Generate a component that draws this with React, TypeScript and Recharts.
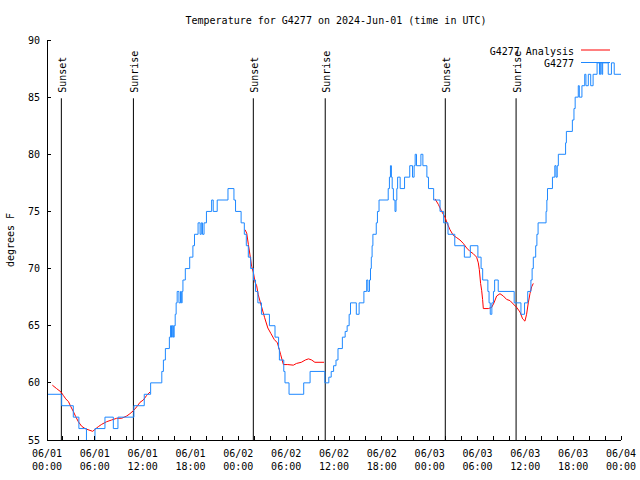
/**
 * G4277 temperature trace over three days with the analysis overlay
 * and sunset/sunrise markers, gnuplot style.
 */

import { LineChart, Line, XAxis, YAxis, ReferenceLine, Legend } from 'recharts';

const FONT = '"DejaVu Sans Mono", monospace';
const OBS_COLOR = '#1e88ff';
const ANA_COLOR = '#ff0000';

// station observations (hours since 06/01 00:00 UTC, deg F), held until the next reading
const obsHours = [
  0, 1.84, 3.3, 4.0, 4.95, 6.02, 7.27, 8.32, 8.9, 10.9, 12.2, 13.0, 14.4, 14.6, 14.85,
  15.35, 15.5, 15.62, 15.72, 15.85, 15.95, 16.08, 16.2, 16.33, 16.55, 16.75, 16.85, 16.95,
  17.05, 17.35, 17.9, 18.3, 18.5, 18.95, 19.2, 19.35, 19.5, 19.7, 20.0, 20.65, 20.85, 21.35,
  22.7, 23.45, 23.65, 24.35, 24.75, 25.0, 25.25, 25.55, 25.9, 26.15, 26.45, 26.9, 27.9,
  28.6, 29.05, 29.15, 29.7, 29.85, 30.36, 32.2, 33.0, 34.85, 35.35, 35.65, 35.95, 36.25,
  36.5, 37.05, 37.4, 37.65, 37.9, 38.07, 38.8, 39.15, 39.75, 40.1, 40.25, 40.45, 40.58,
  40.68, 40.78, 40.88, 41.3, 41.45, 41.65, 42.8, 42.95, 43.08, 43.2, 43.3, 43.45, 43.65,
  43.78, 43.88, 43.98, 44.3, 44.85, 45.5, 45.85, 46.05, 46.18, 46.35, 46.9, 47.15, 47.65,
  47.85, 48.5, 49.3, 49.75, 50.3, 51.15, 52.35, 53.1, 54.05, 54.45, 54.65, 55.3, 55.45,
  55.6, 55.8, 56.0, 56.15, 56.6, 58.6, 59.45, 59.9, 60.3, 60.7, 60.85, 61.0, 61.3, 61.45,
  61.6, 62.6, 62.7, 62.78, 63.4, 63.7, 63.85, 64.0, 64.14, 65.05, 65.15, 65.9, 66.1, 66.25,
  66.64, 66.77, 67.1, 67.45, 67.6, 67.9, 68.2, 68.5, 69.0, 69.3, 69.45, 69.6, 69.7, 70.4,
  70.8, 71.15, 72,
];
const obsTemps = [
  59, 58, 57, 56, 54, 56, 57, 56, 57, 58, 59, 60, 61, 62, 63,
  64, 65, 64, 65, 64, 65, 66, 67, 68, 67, 68, 67, 68,
  69, 70, 71, 72, 73, 74, 73, 74, 73, 74, 75, 76, 75, 76,
  77, 76, 75, 74, 73, 72, 71, 70, 69, 68, 67, 66, 65,
  64, 63, 62, 61, 60, 59, 60, 61, 60, 60.5, 61, 61.5, 62,
  63, 64, 64.5, 65, 66, 67, 66, 67, 68, 69, 68, 69, 70,
  71, 72, 73, 74, 75, 76, 77, 78, 79, 78, 77, 76, 75,
  76, 77, 78, 77, 78, 79, 78, 79, 80, 79, 80, 79, 78,
  77, 76, 75, 74, 73, 72, 71, 72, 71, 70, 69, 68, 67,
  66, 67, 68, 69, 68, 67, 66, 67, 68, 69, 70, 71, 72, 73,
  74, 75, 76, 77, 78, 79, 78, 79, 80, 81, 82, 83, 84, 85,
  86, 85, 86, 87, 86, 87, 86, 87, 88, 87, 88, 87, 88, 87,
  88, 87, 87,
];

// analysis run, three separate windows (null breaks the line)
const anaHours = [
  0.67, 1.2, 1.76, 2.05, 2.35, 2.7, 3.0, 3.3, 3.6, 3.93, 4.35, 4.77, 5.27, 5.73, 6.02,
  6.44, 6.86, 7.48, 8.1, 8.74, 9.37, 10.0, 10.4, 10.83, 11.25, 11.67, 12.08, 12.5, 12.92,
  18,
  24.84, 25.05, 25.26, 25.46, 25.67, 25.88, 26.1, 26.3, 26.5, 26.9, 27.3, 27.7, 28.1, 28.5,
  28.9, 29.3, 29.65, 30.2, 30.9, 31.3, 31.9, 32.4, 32.8, 33.2, 33.6, 34.75,
  42,
  48.67, 49.1, 49.5, 49.92, 50.21, 50.55, 50.97, 51.4, 51.8, 52.22, 52.64, 53.06, 53.47,
  53.89, 54.1, 54.23, 54.39, 54.52, 54.64, 54.73, 55.36, 55.77, 56.07, 56.4, 56.82, 57.24,
  57.65, 58.07, 58.49, 58.91, 59.33, 59.66, 59.95, 60.16, 60.37, 60.58, 60.79, 61.0,
];
const anaTemps = [
  59.8, 59.5, 59.2, 58.9, 58.6, 58.35, 57.9, 57.5, 57.05, 56.6, 56.2, 56.0, 55.87, 55.76, 55.93,
  56.17, 56.37, 56.6, 56.75, 56.9, 56.9, 57.1, 57.3, 57.56, 57.9, 58.3, 58.5, 58.9, 59.2,
  null,
  73.4, 73.1, 72.1, 71.2, 70.2, 69.7, 68.8, 68.5, 67.7, 66.7, 65.7, 64.8, 64.3, 63.8,
  63.5, 62.5, 61.6, 61.6, 61.55, 61.7, 61.8, 62.0, 62.1, 62.0, 61.8, 61.8,
  null,
  76.1, 75.6, 75.0, 74.5, 73.95, 73.4, 72.9, 72.7, 72.5, 72.2, 71.8, 71.5, 71.3,
  71.0, 70.5, 69.9, 68.7, 68.1, 67.3, 66.5, 66.5, 66.6, 67.0, 67.6, 67.8, 67.6,
  67.3, 67.2, 66.9, 66.6, 66.2, 65.6, 65.4, 66.0, 67.0, 67.8, 68.4, 68.7,
];

const sunHours = [1.8, 10.84, 25.88, 34.9, 49.96, 58.84];
const sunLabels = ['Sunset', 'Sunrise', 'Sunset', 'Sunrise', 'Sunset', 'Sunrise'];
const SUN_TOP = 84.9;

const seriesNames = ['G4277 Analysis', 'G4277'];
const xTickHours = [0, 2, 4, 6, 8, 10, 12, 14, 16, 18, 20, 22, 24, 26, 28, 30, 32, 34, 36, 38, 40, 42, 44, 46, 48, 50, 52, 54, 56, 58, 60, 62, 64, 66, 68, 70, 72];
const xDateLabels = ['06/01', '06/01', '06/01', '06/01', '06/02', '06/02', '06/02', '06/02', '06/03', '06/03', '06/03', '06/03', '06/04'];
const xTimeLabels = ['00:00', '06:00', '12:00', '18:00', '00:00', '06:00', '12:00', '18:00', '00:00', '06:00', '12:00', '18:00', '00:00'];
const yTicks = [55, 60, 65, 70, 75, 80, 85, 90];

const obsData = obsHours.map((h, i) => ({ h, t: obsTemps[i] }));
const anaData = anaHours.map((h, i) => ({ h, t: anaTemps[i] }));

function BottomTick({ x, y, payload }: any) {
  const h = payload.value;
  const major = h % 6 === 0;
  return (
    <g>
      <line x1={x} y1={y} x2={x} y2={y - 4} stroke="#000" shapeRendering="crispEdges" />
      {major && (
        <text x={x} y={y + 17} textAnchor="middle" fontFamily={FONT} fontSize={10} fill="#000">
          <tspan x={x}>{xDateLabels[h / 6]}</tspan>
          <tspan x={x} dy={13}>{xTimeLabels[h / 6]}</tspan>
        </text>
      )}
    </g>
  );
}

function TopTick({ x, y }: any) {
  return <line x1={x} y1={y} x2={x} y2={y + 4} stroke="#000" shapeRendering="crispEdges" />;
}

function LeftTick({ x, y, payload }: any) {
  return (
    <g>
      <line x1={x} y1={y} x2={x + 4} y2={y} stroke="#000" shapeRendering="crispEdges" />
      <text x={x - 7} y={y + 3.5} textAnchor="end" fontFamily={FONT} fontSize={10} fill="#000">
        {payload.value}
      </text>
    </g>
  );
}

function RightTick({ x, y }: any) {
  return <line x1={x} y1={y} x2={x - 4} y2={y} stroke="#000" shapeRendering="crispEdges" />;
}

function SunLabel({ viewBox, text }: any) {
  const x = viewBox.x + 5;
  const y = viewBox.y - 5.5;
  return (
    <text x={x} y={y} transform={`rotate(-90 ${x} ${y})`} fontFamily={FONT} fontSize={10} fill="#000">
      {text}
    </text>
  );
}

function KeyBox() {
  const colors = [ANA_COLOR, OBS_COLOR];
  return (
    <svg width={170} height={34}>
      {seriesNames.map((name, i) => (
        <g key={name}>
          <text x={104} y={16.5 + i * 12.5} textAnchor="end" fontFamily={FONT} fontSize={10} fill="#000">
            {name}
          </text>
          <line x1={111} x2={140} y1={12 + i * 12.5} y2={12 + i * 12.5} stroke={colors[i]} />
        </g>
      ))}
    </svg>
  );
}

export default function App() {
  return (
    <div style={{ position: 'absolute', left: 0, top: 0, width: 640, height: 480, background: '#fff' }}>
      <LineChart width={640} height={480} margin={{ top: 40, right: 19, bottom: 0, left: 0 }}>
        <text x={336} y={24} textAnchor="middle" fontFamily={FONT} fontSize={10} fill="#000">
          Temperature for G4277 on 2024-Jun-01 (time in UTC)
        </text>
        <text x={13.5} y={240} transform="rotate(-90 13.5 240)" textAnchor="middle" fontFamily={FONT} fontSize={10} fill="#000">
          degrees F
        </text>
        <XAxis
          dataKey="h"
          type="number"
          domain={[0, 72]}
          allowDataOverflow
          ticks={xTickHours}
          interval={0}
          height={40}
          tickSize={0}
          tickMargin={0}
          tickLine={false}
          axisLine={{ stroke: '#000', shapeRendering: 'crispEdges' }}
          tick={<BottomTick />}
        />
        <XAxis
          xAxisId="top"
          orientation="top"
          dataKey="h"
          type="number"
          domain={[0, 72]}
          allowDataOverflow
          ticks={xTickHours}
          interval={0}
          height={0}
          tickSize={0}
          tickMargin={0}
          tickLine={false}
          axisLine={{ stroke: '#000', shapeRendering: 'crispEdges' }}
          tick={<TopTick />}
        />
        <YAxis
          type="number"
          domain={[55, 90]}
          allowDataOverflow
          ticks={yTicks}
          interval={0}
          width={47}
          tickSize={0}
          tickMargin={0}
          tickLine={false}
          axisLine={{ stroke: '#000', shapeRendering: 'crispEdges' }}
          tick={<LeftTick />}
        />
        <YAxis
          yAxisId="right"
          orientation="right"
          type="number"
          domain={[55, 90]}
          allowDataOverflow
          ticks={yTicks}
          interval={0}
          width={0}
          tickSize={0}
          tickMargin={0}
          tickLine={false}
          axisLine={{ stroke: '#000', shapeRendering: 'crispEdges' }}
          tick={<RightTick />}
        />
        {sunHours.map((h, i) => (
          <ReferenceLine
            key={`sun-${i}`}
            segment={[{ x: h, y: 55 }, { x: h, y: SUN_TOP }]}
            stroke="#000"
            strokeWidth={1}
            label={<SunLabel text={sunLabels[i]} />}
          />
        ))}
        <Line
          data={anaData}
          dataKey="t"
          name={seriesNames[0]}
          type="linear"
          stroke={ANA_COLOR}
          strokeWidth={1}
          dot={false}
          activeDot={false}
          connectNulls={false}
          isAnimationActive={false}
        />
        <Line
          data={obsData}
          dataKey="t"
          name={seriesNames[1]}
          type="stepAfter"
          stroke={OBS_COLOR}
          strokeWidth={1}
          dot={false}
          activeDot={false}
          isAnimationActive={false}
        />
        <Legend
          layout="horizontal"
          verticalAlign="middle"
          align="center"
          content={() => <KeyBox />}
          wrapperStyle={{ position: 'absolute', left: 470, top: 38, width: 170, height: 34 }}
        />
      </LineChart>
    </div>
  );
}
